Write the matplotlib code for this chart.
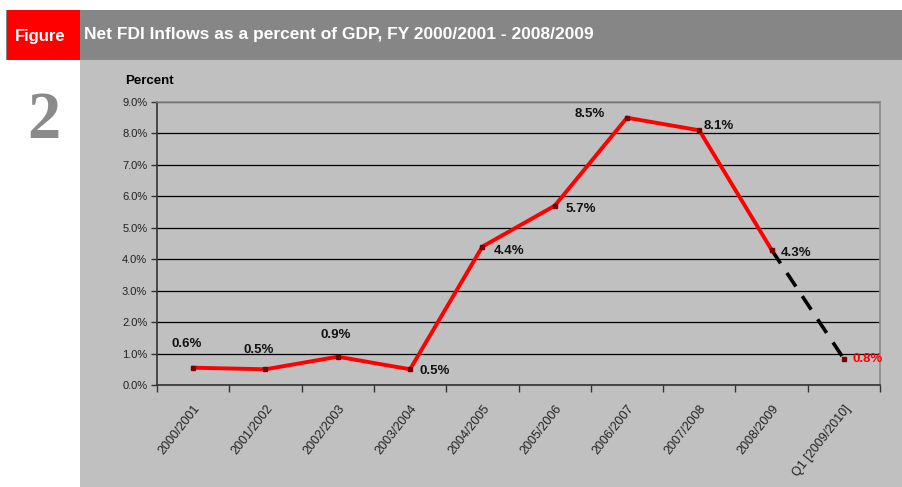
import matplotlib

matplotlib.use("Agg")
import matplotlib.pyplot as plt
from matplotlib.patches import Rectangle

NARROW = ["Liberation Sans Narrow", "Liberation Sans", "DejaVu Sans"]

periods = ["2000/2001", "2001/2002", "2002/2003", "2003/2004", "2004/2005",
           "2005/2006", "2006/2007", "2007/2008", "2008/2009", "Q1 [2009/2010]"]
fdi_pct = [0.55, 0.5, 0.9, 0.5, 4.4, 5.7, 8.5, 8.1, 4.3, 0.83]
point_labels = ["0.6%", "0.5%", "0.9%", "0.5%", "4.4%", "5.7%", "8.5%", "8.1%", "4.3%", "0.8%"]
yticks = [0, 1, 2, 3, 4, 5, 6, 7, 8, 9]

W, H = 903, 487
fig = plt.figure(figsize=(W / 100, H / 100), dpi=100)
fig.patch.set_facecolor("white")


def box(x0, y0, x1, y1, color):
    # pixel coords, y from top
    fig.patches.append(Rectangle((x0 / W, 1 - y1 / H), (x1 - x0) / W, (y1 - y0) / H,
                                 transform=fig.transFigure, facecolor=color,
                                 edgecolor="none", zorder=-5))


box(6, 10, 903, 60, "#868686")
box(7, 10, 80, 60, "#ff0000")
box(80, 60, 903, 487, "#c0c0c0")

fig.text(40 / W, 1 - 36 / H, "Figure", color="white", fontsize=12, fontweight="bold",
         ha="center", va="center", family=NARROW)
fig.text(84 / W, 1 - 35 / H, "Net FDI Inflows as a percent of GDP, FY 2000/2001 - 2008/2009",
         color="white", fontsize=12.5, fontweight="bold", ha="left", va="center", family=NARROW)
fig.text(44 / W, 1 - 121 / H, "2", color="#8a8a8a", fontsize=48, fontweight="bold",
         ha="center", va="center", family=["Liberation Serif", "DejaVu Serif"])
fig.text(125 / W, 1 - 81 / H, "Percent", color="black", fontsize=9.5, fontweight="bold",
         ha="left", va="center", family=NARROW)

ax = fig.add_axes([157 / W, (H - 385) / H, (880 - 157) / W, 283 / H])
ax.set_zorder(2)
ax.set_facecolor("#c0c0c0")
x = list(range(len(periods)))

ax.plot(x[:9], fdi_pct[:9], color="#ff0000", lw=2.8, solid_joinstyle="miter", zorder=3)
ax.plot(x[8:], fdi_pct[8:], color="black", lw=2.6, dashes=(4.5, 3.2), zorder=3)
ax.plot(x, fdi_pct, ls="none", marker="s", ms=2.5, color="#7a0000", zorder=4)

# label offsets in pixels (dx, dy upward, alignment)
offsets = [(-6, 24, "center"), (-7, 19, "center"), (-2, 22, "center"), (9, -2, "left"),
           (11, -4, "left"), (11, -3, "left"), (-22, 4, "right"), (4, 4, "left"),
           (9, -3, "left"), (9, 0, "left")]
for xi, yi, lab, (dx, dy, ha) in zip(x, fdi_pct, point_labels, offsets):
    ax.annotate(lab, (xi, yi), xytext=(dx, dy), textcoords="offset pixels",
                ha=ha, va="center", fontsize=9.5, fontweight="bold",
                color="#ff0000" if xi == 9 else "#111111", family=NARROW, zorder=5)

ax.set_xlim(-0.5, 9.5)
ax.set_ylim(0, 9)
ax.set_yticks(yticks)
ax.set_yticklabels([f"{v:.1f}%" for v in yticks], fontsize=8, family=NARROW, color="#222222")
ax.yaxis.grid(True, color="black", lw=0.9)
ax.set_axisbelow(True)
ax.set_xticks([i - 0.5 for i in range(len(periods) + 1)])
ax.set_xticklabels([])
ax.set_xticks(x, minor=True)
ax.set_xticklabels(periods, minor=True, rotation=52, ha="right", va="top",
                   fontsize=9, family=NARROW, color="#222222", rotation_mode="anchor")
ax.tick_params(axis="x", which="minor", length=0, pad=13)
ax.tick_params(axis="x", which="major", length=5, direction="out", color="#333333", width=1)
ax.tick_params(axis="y", length=4, direction="out", color="#333333", width=1, pad=3)

for side in ("top", "right"):
    ax.spines[side].set_color("#8a8a8a")
    ax.spines[side].set_linewidth(1.2)
for side in ("left", "bottom"):
    ax.spines[side].set_color("#333333")
    ax.spines[side].set_linewidth(1.2)

fig.savefig("out.png", dpi=100, facecolor="white")
